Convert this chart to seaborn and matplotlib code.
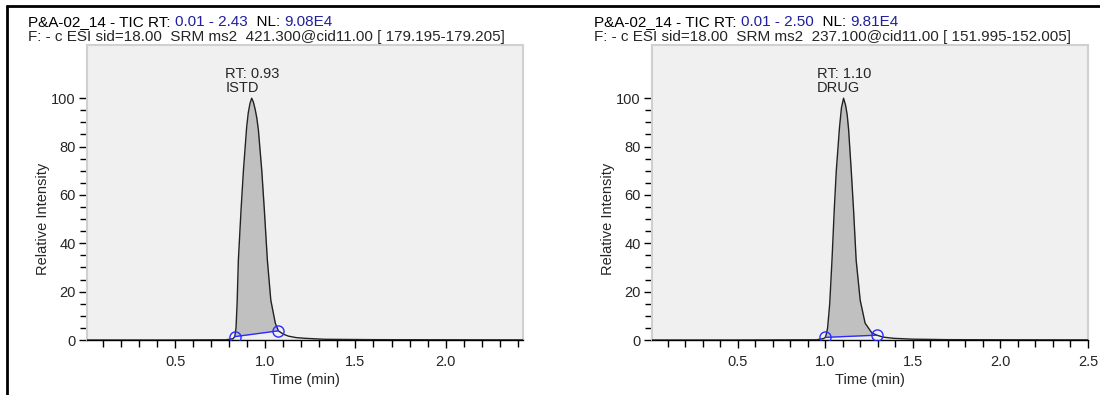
import numpy as np
import pandas as pd
import seaborn as sns
import matplotlib.pyplot as plt
from matplotlib.lines import Line2D
from matplotlib.ticker import FixedLocator, MultipleLocator

sns.set_theme(style="white")
plt.rcParams['font.family'] = ['Liberation Sans', 'DejaVu Sans']

# ISTD trace (left panel)
istd_time = [0.01, 0.50, 0.78, 0.82, 0.830, 0.837, 0.843, 0.850, 0.865, 0.878, 0.896,
             0.905, 0.915, 0.924, 0.933, 0.943, 0.952, 0.961, 0.980, 0.994, 1.011,
             1.030, 1.055, 1.072, 1.100, 1.128, 1.170, 1.220, 1.330, 1.600, 2.000, 2.430]
istd_int = [0.0, 0.0, 0.1, 0.5, 1.4, 5.0, 15.0, 33.0, 54.0, 70.0, 88.0,
            94.0, 98.0, 100.0, 98.5, 95.5, 92.0, 87.0, 70.0, 54.0, 33.0,
            16.5, 7.0, 3.8, 2.4, 1.6, 1.0, 0.7, 0.3, 0.15, 0.1, 0.05]
istd_base_t = [0.830, 1.072]
istd_base_i = [1.4, 3.8]

# DRUG trace (right panel)
drug_time = [0.01, 0.50, 0.95, 0.99, 1.000, 1.006, 1.013, 1.025, 1.038, 1.051, 1.0625,
             1.081, 1.092, 1.104, 1.116, 1.125, 1.133, 1.148, 1.161, 1.176, 1.199,
             1.227, 1.265, 1.294, 1.330, 1.390, 1.500, 1.700, 2.000, 2.500]
drug_int = [0.0, 0.0, 0.1, 0.6, 1.1, 2.5, 5.0, 15.0, 33.0, 54.0, 70.0,
            88.0, 96.0, 100.0, 97.0, 93.0, 87.0, 70.0, 54.0, 33.0, 16.5,
            7.0, 3.0, 2.0, 1.2, 0.7, 0.35, 0.15, 0.1, 0.05]
drug_base_t = [1.000, 1.294]
drug_base_i = [1.1, 2.0]

panels = [
    dict(time=istd_time, inten=istd_int, bt=istd_base_t, bi=istd_base_i,
         rt="0.93", name="ISTD", peak=0.928, xlim=(0.01, 2.43),
         xticks=[0.5, 1.0, 1.5, 2.0], rng="0.01 - 2.43", nl="9.08E4",
         filt="F: - c ESI sid=18.00  SRM ms2  421.300@cid11.00 [ 179.195-179.205]",
         pos=[0.0791, 0.1392, 0.3964, 0.7468], tx=0.0255),
    dict(time=drug_time, inten=drug_int, bt=drug_base_t, bi=drug_base_i,
         rt="1.10", name="DRUG", peak=1.106, xlim=(0.01, 2.50),
         xticks=[0.5, 1.0, 1.5, 2.0, 2.5], rng="0.01 - 2.50", nl="9.81E4",
         filt="F: - c ESI sid=18.00  SRM ms2  237.100@cid11.00 [ 151.995-152.005]",
         pos=[0.5927, 0.1392, 0.3964, 0.7468], tx=0.540),
]

blue_txt = "#1f1f9f"
blue = "#2b2bff"
fs = 10.5
fs_head = 11

fig = plt.figure(figsize=(11, 3.95), dpi=100)

for p in panels:
    ax = fig.add_axes(p["pos"])
    ax.set_facecolor("#f0f0f0")
    df = pd.DataFrame({"Time": p["time"], "Int": p["inten"]})

    # shaded peak area above the integration baseline
    t = np.array(p["time"])
    y = np.array(p["inten"])
    base = np.interp(t, p["bt"], p["bi"])
    mask = (t >= p["bt"][0]) & (t <= p["bt"][1])
    ax.fill_between(t, y, base, where=mask, color="#c0c0c0", lw=0, zorder=1)

    sns.lineplot(data=df, x="Time", y="Int", ax=ax, color="#222222", lw=1,
                 estimator=None, zorder=3)
    sns.lineplot(x=p["bt"], y=p["bi"], ax=ax, color=blue, lw=1, marker='o',
                 markersize=8, markerfacecolor='none', markeredgecolor=blue,
                 markeredgewidth=1, estimator=None, zorder=4)

    ax.text(p["peak"], 101.5, f"RT: {p['rt']}\n{p['name']}", ha='center',
            va='bottom', multialignment='left', fontsize=fs, linespacing=1.0)

    ax.set_xlim(*p["xlim"])
    ax.set_ylim(0, 122)
    ax.xaxis.set_major_locator(FixedLocator(p["xticks"]))
    ax.xaxis.set_minor_locator(MultipleLocator(0.1))
    ax.yaxis.set_major_locator(FixedLocator([0, 20, 40, 60, 80, 100]))
    ax.yaxis.set_minor_locator(FixedLocator(list(range(5, 100, 5))))
    ax.tick_params(axis='both', which='both', direction='out', color='black',
                   width=1, labelsize=fs)
    ax.tick_params(axis='x', which='both', pad=5)
    ax.tick_params(axis='y', which='both', pad=2)
    ax.tick_params(axis='both', which='major', length=6, left=True, bottom=True)
    ax.tick_params(axis='both', which='minor', length=5, left=True, bottom=True)
    ax.set_xticklabels([f"{v:.1f}" for v in p["xticks"]])

    for s in ["top", "right", "left"]:
        ax.spines[s].set_color("#d0d0d0")
        ax.spines[s].set_linewidth(1.5)
    ax.spines["bottom"].set_color("black")
    ax.spines["bottom"].set_linewidth(1)

    ax.set_xlabel("Time (min)", fontsize=fs, labelpad=3)
    ax.set_ylabel("Relative Intensity", fontsize=fs)
    ax.yaxis.set_label_coords(-0.085, 50 / 122)

    # header: first line has blue values, chained piece by piece
    parts = [("P&A-02_14 - TIC RT: ", "black"), (p["rng"], blue_txt),
             ("  NL: ", "black"), (p["nl"], blue_txt)]
    prev = fig.text(p["tx"], 0.935, parts[0][0], color=parts[0][1],
                    fontsize=fs_head, va='baseline')
    for s, c in parts[1:]:
        prev = fig.add_artist(plt.Annotation(s, xy=(1, 0), xycoords=prev,
                                             va='bottom', color=c, fontsize=fs_head))
    fig.text(p["tx"], 0.895, p["filt"], fontsize=fs_head, va='baseline')

# outer frame lines (top and left)
fig.add_artist(Line2D([0.0064, 1.0], [0.985, 0.985], color='black', lw=2,
                      transform=fig.transFigure))
fig.add_artist(Line2D([0.0064, 0.0064], [0.0, 0.985], color='black', lw=2,
                      transform=fig.transFigure))

fig.savefig("out.png", dpi=100)
